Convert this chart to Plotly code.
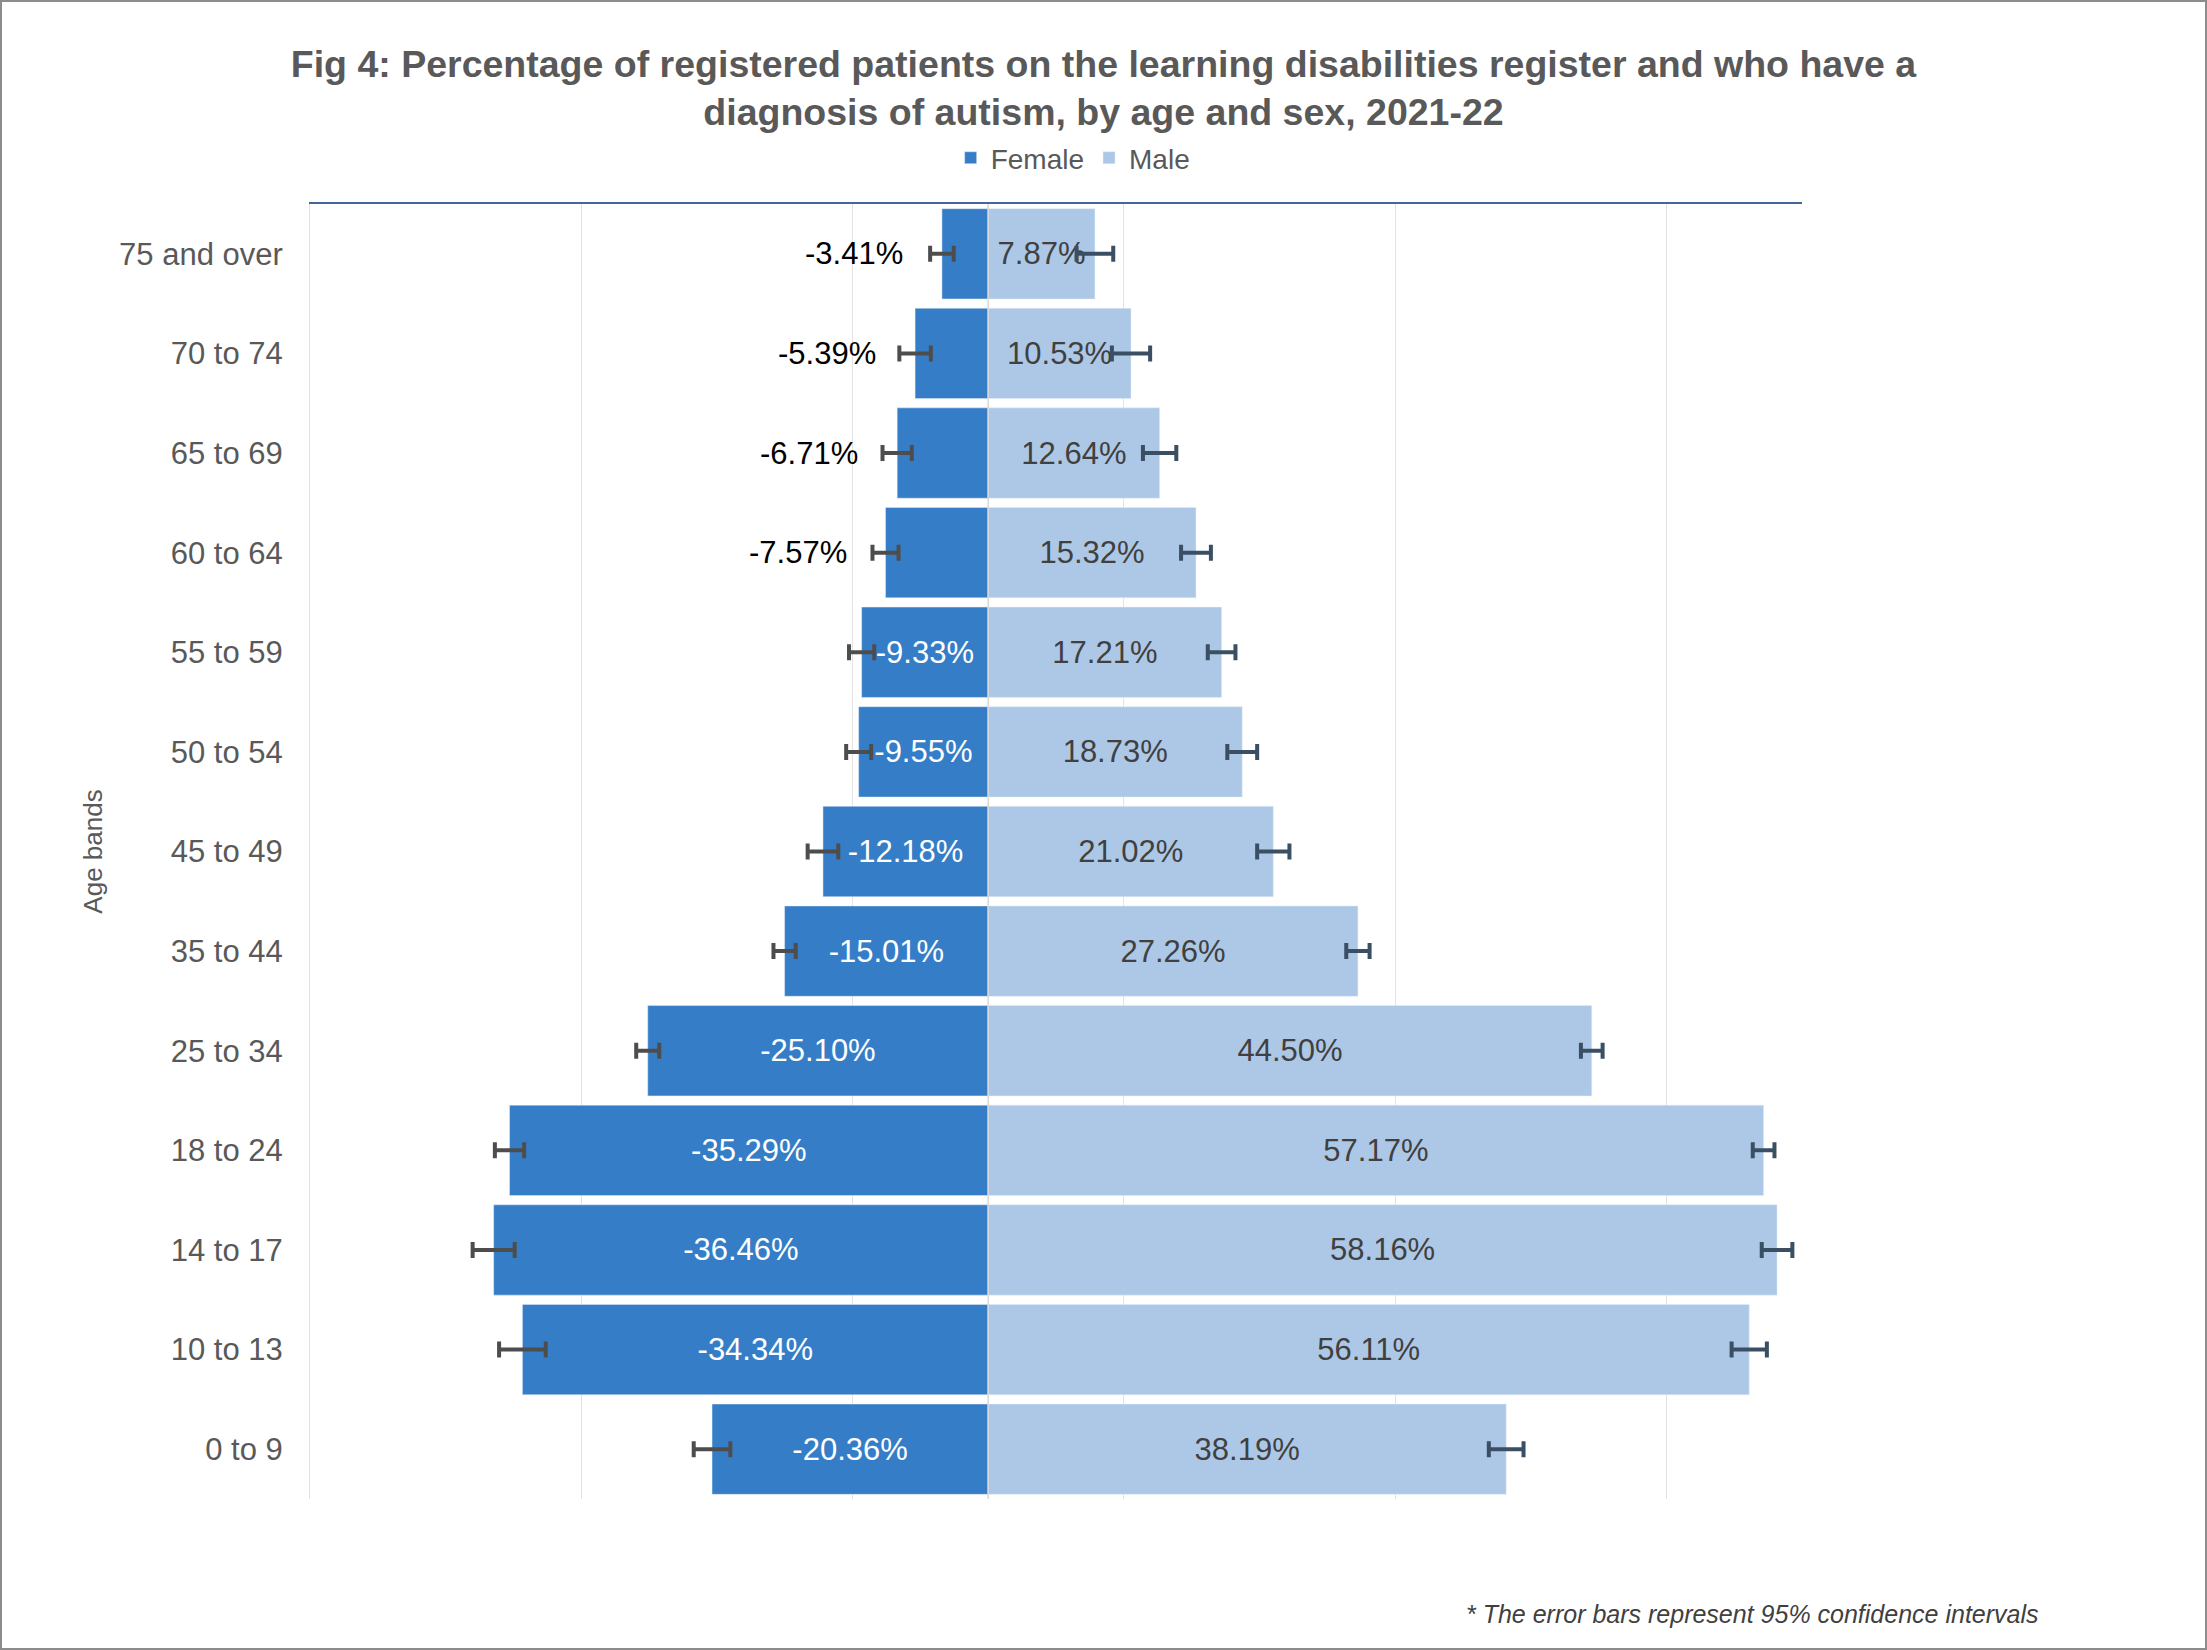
"""Population-pyramid chart: LD register patients with autism, by age and sex."""
import plotly.graph_objects as go

age_bands = ['75 and over', '70 to 74', '65 to 69', '60 to 64', '55 to 59',
             '50 to 54', '45 to 49', '35 to 44', '25 to 34', '18 to 24',
             '14 to 17', '10 to 13', '0 to 9']
female = [-3.41, -5.39, -6.71, -7.57, -9.33, -9.55, -12.18, -15.01,
          -25.10, -35.29, -36.46, -34.34, -20.36]
male = [7.87, 10.53, 12.64, 15.32, 17.21, 18.73, 21.02, 27.26,
        44.50, 57.17, 58.16, 56.11, 38.19]
# half-width of the 95% confidence intervals (percentage points)
female_ci = [0.87, 1.16, 1.08, 0.96, 0.93, 0.92, 1.13, 0.82,
             0.85, 1.08, 1.55, 1.72, 1.35]
male_ci = [1.35, 1.41, 1.23, 1.10, 1.02, 1.10, 1.19, 0.86,
           0.80, 0.80, 1.13, 1.30, 1.28]
grid_vals = [-50, -30, -10, 10, 30, 50]

FONT = 'Liberation Sans, Arial, sans-serif'
FEMALE_COL = '#357EC7'
MALE_COL = '#ADC8E6'
GRID = '#E3E3E3'

# plot area in px, used for the outer frame
W, H = 2207, 1650
L, R, T, B = 310, 405, 204, 151
PW, PH = W - L - R, H - T - B

# small female bars get their label outside, left of the error bar
outside = [abs(v) < 9 for v in female]

fig = go.Figure()
fig.add_trace(go.Bar(
    y=age_bands, x=female, name='Female', orientation='h',
    marker_color=FEMALE_COL,
    text=[f'{v:.2f}%' for v in female],
    textposition=['none' if o else 'inside' for o in outside],
    insidetextanchor='middle',
    insidetextfont=dict(color='white', size=31, family=FONT),
    error_x=dict(type='data', array=female_ci, color='#4D4D4D',
                 thickness=4, width=8),
    hoverinfo='skip',
))
fig.add_trace(go.Bar(
    y=age_bands, x=male, name='Male', orientation='h',
    marker_color=MALE_COL,
    text=[f'{v:.2f}%' for v in male],
    textposition='inside',
    insidetextanchor='middle',
    insidetextfont=dict(color='#404040', size=31, family=FONT),
    error_x=dict(type='data', array=male_ci, color='#3A4F63',
                 thickness=4, width=8),
    hoverinfo='skip',
))

for band, v, o in zip(age_bands, female, outside):
    if o:
        fig.add_annotation(x=v, y=band, text=f'{v:.2f}%', showarrow=False,
                           xanchor='right', xshift=-37,
                           font=dict(color='black', size=31, family=FONT))

# footnote
fig.add_annotation(
    text='<i>* The error bars represent 95% confidence intervals</i>',
    xref='paper', yref='paper', x=1.16, y=-0.089,
    xanchor='right', yanchor='middle', showarrow=False,
    font=dict(size=25, color='#404040', family=FONT),
)

# category axis at zero, drawn over the bars
fig.add_shape(type='line', xref='x', yref='paper', x0=0, x1=0, y0=0, y1=1,
              line=dict(color='#D9D9D9', width=1.5), layer='above')
# outer frame of the chart
fig.add_shape(type='rect', xref='paper', yref='paper',
              x0=(1 - L) / PW, x1=(W - 1 - L) / PW,
              y0=(1 - B) / PH, y1=(H - 1 - B) / PH,
              line=dict(color='#8C8C8C', width=2))

fig.update_layout(
    width=W, height=H,
    margin=dict(l=L, r=R, t=T, b=B),
    paper_bgcolor='white', plot_bgcolor='white',
    barmode='overlay', bargap=0.093,
    font=dict(family=FONT, color='#595959'),
    title=dict(
        text='<b>Fig 4: Percentage of registered patients on the learning disabilities register and who have a<br>'
             'diagnosis of autism, by age and sex, 2021-22</b>',
        x=0.5, xanchor='center', y=1 - 76.5 / H, yanchor='middle',
        font=dict(size=37.5, color='#595959', family=FONT),
    ),
    legend=dict(orientation='h', x=0.5115, xanchor='center',
                y=1.0355, yanchor='middle',
                font=dict(size=28, color='#595959', family=FONT),
                itemwidth=30),
    uniformtext=dict(minsize=31, mode='show'),
    showlegend=True,
)
fig.update_xaxes(
    range=[-50, 60], tickvals=grid_vals, showticklabels=False,
    showgrid=True, gridcolor=GRID, gridwidth=1, zeroline=False,
    side='top', showline=True, linecolor='#44679A', linewidth=2,
)
fig.update_yaxes(
    autorange='reversed', showgrid=False, zeroline=False,
    showline=True, linecolor=GRID, linewidth=1,
    tickfont=dict(size=31, color='#595959', family=FONT),
    ticklabelstandoff=20,
    title=dict(text='Age bands', standoff=8,
               font=dict(size=26, color='#595959', family=FONT)),
)

fig.write_html('out.html', config={'displayModeBar': False},
               post_script="document.body.style.margin='0';")
